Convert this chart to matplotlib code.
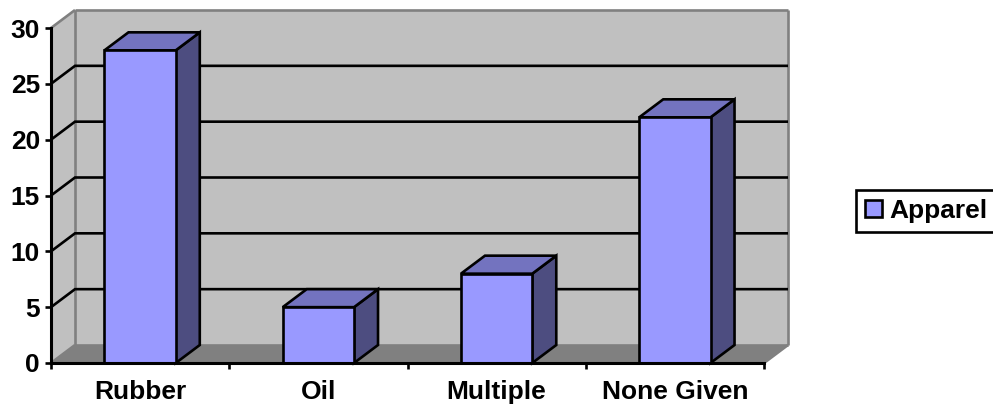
import matplotlib
matplotlib.use("Agg")
import matplotlib.pyplot as plt
from matplotlib.patches import Polygon, Patch
from matplotlib.transforms import IdentityTransform

categories = ["Rubber", "Oil", "Multiple", "None Given"]
values = [28, 5, 8, 22]
series_name = "Apparel"
yticks = [0, 5, 10, 15, 20, 25, 30]

W, H = 993, 407
X0, X1, Y0, Y30 = 51, 764, 363, 28
DX_PX, DY_PX = 24, 18
LW = 1.9
FS = 19

plt.rcParams["font.family"] = ["Liberation Sans", "DejaVu Sans"]
plt.rcParams["font.weight"] = "bold"
plt.rcParams["font.size"] = FS

fig = plt.figure(figsize=(W / 100, H / 100), dpi=100, facecolor="white")
ax = fig.add_axes([X0 / W, 1 - Y0 / H, (X1 - X0) / W, (Y0 - Y30) / H])
n = len(categories)
ymax = yticks[-1]
ax.set_xlim(0, n)
ax.set_ylim(0, ymax)
ax.patch.set_visible(False)

dx = DX_PX / ((X1 - X0) / n)
dy = DY_PX / ((Y0 - Y30) / ymax)


def poly(pts, fc, ec="none", z=1, lw=LW):
    ax.add_patch(Polygon(pts, closed=True, facecolor=fc, edgecolor=ec, linewidth=lw,
                         zorder=z, clip_on=False, joinstyle="miter"))


# walls and floor
poly([(0, 0), (dx, dy), (dx, ymax + dy), (0, ymax)], "#c0c0c0", z=1)
poly([(dx, dy), (n + dx, dy), (n + dx, ymax + dy), (dx, ymax + dy)], "#c0c0c0", z=1)
poly([(0, 0), (n, 0), (n + dx, dy), (dx, dy)], "#808080", z=1)
for xs, ys in [([dx, dx], [dy, ymax + dy]), ([dx, n + dx], [ymax + dy, ymax + dy]),
               ([n + dx, n + dx], [dy, ymax + dy]), ([dx, n + dx], [dy, dy]),
               ([0, dx], [ymax, ymax + dy]), ([0, dx], [0, dy]), ([n, n + dx], [0, dy])]:
    ax.plot(xs, ys, color="#808080", lw=LW, zorder=2, clip_on=False, solid_capstyle="butt")

# gridlines
for t in yticks[1:-1]:
    ax.plot([0, dx, n + dx], [t, t + dy, t + dy], color="black", lw=LW, zorder=3,
            clip_on=False, solid_joinstyle="miter", solid_capstyle="butt")

# bars
bw = 0.4
for i, v in enumerate(values):
    l, r = i + 0.5 - bw / 2, i + 0.5 + bw / 2
    z = 5 + i
    poly([(r, 0), (r + dx, dy), (r + dx, v + dy), (r, v)], "#4d4d80", "black", z)
    poly([(l, v), (r, v), (r + dx, v + dy), (l + dx, v + dy)], "#7373bf", "black", z)
    poly([(l, 0), (r, 0), (r, v), (l, v)], "#9999ff", "black", z)

# axes
for s in ["top", "right"]:
    ax.spines[s].set_visible(False)
for s in ["left", "bottom"]:
    ax.spines[s].set_linewidth(LW + 0.3)
    ax.spines[s].set_zorder(20)
ax.set_yticks(yticks)
ax.set_xticks(range(n + 1))
ax.set_xticklabels([])
ax.set_xticks([i + 0.5 for i in range(n)], minor=True)
ax.set_xticklabels(categories, minor=True)
ax.tick_params(axis="y", length=4.3, width=LW, pad=3.6, labelsize=FS)
ax.tick_params(axis="x", which="major", length=4.3, width=LW)
ax.tick_params(axis="x", which="minor", length=0, pad=12, labelsize=FS)

# legend
leg = fig.legend(handles=[Patch(facecolor="#9999ff", edgecolor="black", linewidth=LW, label=series_name)],
                 loc="upper left", bbox_to_anchor=(856, H - 190),
                 bbox_transform=IdentityTransform(), borderaxespad=0, fontsize=FS, fancybox=False,
                 framealpha=1, edgecolor="black", borderpad=0.34, handlelength=0.64,
                 handleheight=0.64, handletextpad=0.3, labelspacing=0)
leg.get_frame().set_linewidth(LW)

fig.savefig("out.png", dpi=100)
